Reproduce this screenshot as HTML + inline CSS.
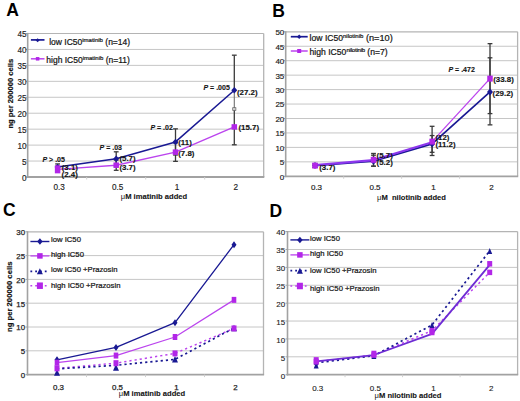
<!DOCTYPE html>
<html><head><meta charset="utf-8"><style>
html,body{margin:0;padding:0;background:#fff;}
svg{display:block;font-family:"Liberation Sans", sans-serif;}
</style></head><body>
<svg width="520" height="401" viewBox="0 0 520 401">
<rect width="520" height="401" fill="#fff"/>
<line x1="27.7" y1="161.06" x2="263.7" y2="161.06" stroke="#c6c6c6" stroke-width="1"/>
<line x1="27.7" y1="145.11" x2="263.7" y2="145.11" stroke="#c6c6c6" stroke-width="1"/>
<line x1="27.7" y1="129.17" x2="263.7" y2="129.17" stroke="#c6c6c6" stroke-width="1"/>
<line x1="27.7" y1="113.22" x2="263.7" y2="113.22" stroke="#c6c6c6" stroke-width="1"/>
<line x1="27.7" y1="97.28" x2="263.7" y2="97.28" stroke="#c6c6c6" stroke-width="1"/>
<line x1="27.7" y1="81.33" x2="263.7" y2="81.33" stroke="#c6c6c6" stroke-width="1"/>
<line x1="27.7" y1="65.39" x2="263.7" y2="65.39" stroke="#c6c6c6" stroke-width="1"/>
<line x1="27.7" y1="49.44" x2="263.7" y2="49.44" stroke="#c6c6c6" stroke-width="1"/>
<line x1="27.7" y1="33.5" x2="263.7" y2="33.5" stroke="#b4b4b4" stroke-width="1.2"/>
<line x1="263.7" y1="33.5" x2="263.7" y2="177" stroke="#b4b4b4" stroke-width="1.3"/>
<line x1="27.7" y1="32.9" x2="27.7" y2="177.8" stroke="#a2a2a2" stroke-width="1.6"/>
<line x1="26.9" y1="177" x2="264.3" y2="177" stroke="#a2a2a2" stroke-width="1.8"/>
<line x1="25.7" y1="177" x2="27.7" y2="177" stroke="#a2a2a2" stroke-width="1"/>
<text x="26.5" y="180.8" font-size="8.2" text-anchor="end" font-weight="normal" fill="#222" stroke="#222" stroke-width="0.15" >0</text>
<line x1="25.7" y1="161.06" x2="27.7" y2="161.06" stroke="#a2a2a2" stroke-width="1"/>
<text x="26.5" y="164.86" font-size="8.2" text-anchor="end" font-weight="normal" fill="#222" stroke="#222" stroke-width="0.15" >5</text>
<line x1="25.7" y1="145.11" x2="27.7" y2="145.11" stroke="#a2a2a2" stroke-width="1"/>
<text x="26.5" y="148.91" font-size="8.2" text-anchor="end" font-weight="normal" fill="#222" stroke="#222" stroke-width="0.15" >10</text>
<line x1="25.7" y1="129.17" x2="27.7" y2="129.17" stroke="#a2a2a2" stroke-width="1"/>
<text x="26.5" y="132.97" font-size="8.2" text-anchor="end" font-weight="normal" fill="#222" stroke="#222" stroke-width="0.15" >15</text>
<line x1="25.7" y1="113.22" x2="27.7" y2="113.22" stroke="#a2a2a2" stroke-width="1"/>
<text x="26.5" y="117.02" font-size="8.2" text-anchor="end" font-weight="normal" fill="#222" stroke="#222" stroke-width="0.15" >20</text>
<line x1="25.7" y1="97.28" x2="27.7" y2="97.28" stroke="#a2a2a2" stroke-width="1"/>
<text x="26.5" y="101.08" font-size="8.2" text-anchor="end" font-weight="normal" fill="#222" stroke="#222" stroke-width="0.15" >25</text>
<line x1="25.7" y1="81.33" x2="27.7" y2="81.33" stroke="#a2a2a2" stroke-width="1"/>
<text x="26.5" y="85.13" font-size="8.2" text-anchor="end" font-weight="normal" fill="#222" stroke="#222" stroke-width="0.15" >30</text>
<line x1="25.7" y1="65.39" x2="27.7" y2="65.39" stroke="#a2a2a2" stroke-width="1"/>
<text x="26.5" y="69.19" font-size="8.2" text-anchor="end" font-weight="normal" fill="#222" stroke="#222" stroke-width="0.15" >35</text>
<line x1="25.7" y1="49.44" x2="27.7" y2="49.44" stroke="#a2a2a2" stroke-width="1"/>
<text x="26.5" y="53.24" font-size="8.2" text-anchor="end" font-weight="normal" fill="#222" stroke="#222" stroke-width="0.15" >40</text>
<line x1="25.7" y1="33.5" x2="27.7" y2="33.5" stroke="#a2a2a2" stroke-width="1"/>
<text x="26.5" y="37.3" font-size="8.2" text-anchor="end" font-weight="normal" fill="#222" stroke="#222" stroke-width="0.15" >45</text>
<line x1="86.7" y1="177" x2="86.7" y2="179.5" stroke="#cfcfcf" stroke-width="1"/>
<line x1="145.7" y1="177" x2="145.7" y2="179.5" stroke="#cfcfcf" stroke-width="1"/>
<line x1="204.7" y1="177" x2="204.7" y2="179.5" stroke="#cfcfcf" stroke-width="1"/>
<text x="59.1" y="190" font-size="8.2" text-anchor="middle" font-weight="normal" fill="#222" stroke="#222" stroke-width="0.15" >0.3</text>
<text x="117.7" y="190" font-size="8.2" text-anchor="middle" font-weight="normal" fill="#222" stroke="#222" stroke-width="0.15" >0.5</text>
<text x="177" y="190" font-size="8.2" text-anchor="middle" font-weight="normal" fill="#222" stroke="#222" stroke-width="0.15" >1</text>
<text x="235.8" y="190" font-size="8.2" text-anchor="middle" font-weight="normal" fill="#222" stroke="#222" stroke-width="0.15" >2</text>
<line x1="57.6" y1="163.93" x2="57.6" y2="170.3" stroke="#3a3a3a" stroke-width="1.3"/>
<line x1="55.2" y1="163.93" x2="60" y2="163.93" stroke="#3a3a3a" stroke-width="1.3"/>
<line x1="55.2" y1="170.3" x2="60" y2="170.3" stroke="#3a3a3a" stroke-width="1.3"/>
<line x1="57.6" y1="166.48" x2="57.6" y2="172.22" stroke="#3a3a3a" stroke-width="1.3"/>
<line x1="55.2" y1="166.48" x2="60" y2="166.48" stroke="#3a3a3a" stroke-width="1.3"/>
<line x1="55.2" y1="172.22" x2="60" y2="172.22" stroke="#3a3a3a" stroke-width="1.3"/>
<line x1="116.2" y1="151.81" x2="116.2" y2="165.84" stroke="#3a3a3a" stroke-width="1.3"/>
<line x1="113.8" y1="151.81" x2="118.6" y2="151.81" stroke="#3a3a3a" stroke-width="1.3"/>
<line x1="113.8" y1="165.84" x2="118.6" y2="165.84" stroke="#3a3a3a" stroke-width="1.3"/>
<line x1="116.2" y1="160.1" x2="116.2" y2="170.3" stroke="#3a3a3a" stroke-width="1.3"/>
<line x1="113.8" y1="160.1" x2="118.6" y2="160.1" stroke="#3a3a3a" stroke-width="1.3"/>
<line x1="113.8" y1="170.3" x2="118.6" y2="170.3" stroke="#3a3a3a" stroke-width="1.3"/>
<line x1="175.5" y1="128.85" x2="175.5" y2="155" stroke="#3a3a3a" stroke-width="1.3"/>
<line x1="173.1" y1="128.85" x2="177.9" y2="128.85" stroke="#3a3a3a" stroke-width="1.3"/>
<line x1="173.1" y1="155" x2="177.9" y2="155" stroke="#3a3a3a" stroke-width="1.3"/>
<line x1="175.5" y1="142.88" x2="175.5" y2="161.37" stroke="#3a3a3a" stroke-width="1.3"/>
<line x1="173.1" y1="142.88" x2="177.9" y2="142.88" stroke="#3a3a3a" stroke-width="1.3"/>
<line x1="173.1" y1="161.37" x2="177.9" y2="161.37" stroke="#3a3a3a" stroke-width="1.3"/>
<line x1="234.3" y1="55.18" x2="234.3" y2="90.26" stroke="#3a3a3a" stroke-width="1.3"/>
<line x1="231.9" y1="55.18" x2="236.7" y2="55.18" stroke="#3a3a3a" stroke-width="1.3"/>
<line x1="234.3" y1="90.26" x2="234.3" y2="109.08" stroke="#707070" stroke-width="1.1"/>
<line x1="234.3" y1="109.08" x2="234.3" y2="144.79" stroke="#3a3a3a" stroke-width="1.3"/>
<line x1="231.9" y1="144.79" x2="236.7" y2="144.79" stroke="#3a3a3a" stroke-width="1.3"/>
<rect x="232.7" y="107.68" width="3.2" height="2.8" fill="#d0d0d0" stroke="#606060" stroke-width="0.7"/>
<polyline points="57.6,167.11 116.2,158.82 175.5,141.92 234.3,90.26" fill="none" stroke="#191993" stroke-width="1.5" stroke-linejoin="round"/>
<polyline points="57.6,169.35 116.2,165.2 175.5,152.13 234.3,126.93" fill="none" stroke="#bb44ee" stroke-width="1.4" stroke-linejoin="round"/>
<path d="M57.6,163.86 L60.6,167.11 L57.6,170.36 L54.6,167.11 Z" fill="#191993"/>
<path d="M116.2,155.57 L119.2,158.82 L116.2,162.07 L113.2,158.82 Z" fill="#191993"/>
<path d="M175.5,138.67 L178.5,141.92 L175.5,145.17 L172.5,141.92 Z" fill="#191993"/>
<path d="M234.3,87.01 L237.3,90.26 L234.3,93.51 L231.3,90.26 Z" fill="#191993"/>
<rect x="54.85" y="165.35" width="5.5" height="8" fill="#b226e8"/>
<rect x="113.45" y="162.45" width="5.5" height="5.5" fill="#b226e8"/>
<rect x="172.75" y="149.38" width="5.5" height="5.5" fill="#b226e8"/>
<rect x="231.55" y="124.18" width="5.5" height="5.5" fill="#b226e8"/>
<text x="61.7" y="169.7" font-size="7.9" text-anchor="start" font-weight="bold" fill="#141414" stroke="#141414" stroke-width="0.15" >(3.1)</text>
<text x="61.6" y="177.2" font-size="7.9" text-anchor="start" font-weight="bold" fill="#141414" stroke="#141414" stroke-width="0.15" >(2.4)</text>
<text x="119.4" y="161.1" font-size="7.9" text-anchor="start" font-weight="bold" fill="#141414" stroke="#141414" stroke-width="0.15" >(5.7)</text>
<text x="119.4" y="169.7" font-size="7.9" text-anchor="start" font-weight="bold" fill="#141414" stroke="#141414" stroke-width="0.15" >(3.7)</text>
<text x="178.2" y="145.3" font-size="7.9" text-anchor="start" font-weight="bold" fill="#141414" stroke="#141414" stroke-width="0.15" >(11)</text>
<text x="178.2" y="155.6" font-size="7.9" text-anchor="start" font-weight="bold" fill="#141414" stroke="#141414" stroke-width="0.15" >(7.8)</text>
<text x="236.9" y="94.6" font-size="7.9" text-anchor="start" font-weight="bold" fill="#141414" stroke="#141414" stroke-width="0.15" >(27.2)</text>
<text x="238.4" y="129.9" font-size="7.9" text-anchor="start" font-weight="bold" fill="#141414" stroke="#141414" stroke-width="0.15" >(15.7)</text>
<text x="42.5" y="161.6" font-size="7.0" font-weight="bold" fill="#141414" stroke="#141414" stroke-width="0.12"><tspan font-style="italic">P</tspan> &gt; .05</text>
<text x="99.6" y="149.7" font-size="7.0" font-weight="bold" fill="#141414" stroke="#141414" stroke-width="0.12"><tspan font-style="italic">P</tspan> = .03</text>
<text x="150.4" y="129.7" font-size="7.0" font-weight="bold" fill="#141414" stroke="#141414" stroke-width="0.12"><tspan font-style="italic">P</tspan> = .02</text>
<text x="203.5" y="89.5" font-size="7.0" font-weight="bold" fill="#141414" stroke="#141414" stroke-width="0.12"><tspan font-style="italic">P</tspan> = .005</text>
<polyline points="30.9,39.9 44.5,39.9" fill="none" stroke="#191993" stroke-width="1.7" stroke-linejoin="round"/>
<path d="M37.6,38.3 L39.6,40.3 L37.6,42.3 L35.6,40.3 Z" fill="#191993"/>
<text x="49.2" y="44.6" font-size="8.5" fill="#141414" stroke="#141414" stroke-width="0.22">low IC50<tspan font-size="6" dy="-3">imatinib</tspan><tspan dy="3"> (n=14)</tspan></text>
<polyline points="30.9,58.8 44.5,58.8" fill="none" stroke="#bb44ee" stroke-width="1.5" stroke-linejoin="round"/>
<rect x="35.85" y="57.05" width="3.5" height="3.5" fill="#b226e8"/>
<text x="46.3" y="62.8" font-size="8.5" fill="#141414" stroke="#141414" stroke-width="0.22">high IC50<tspan font-size="6" dy="-3">imatinib</tspan><tspan dy="3"> (n=11)</tspan></text>
<text x="0" y="0" font-size="7.6" font-weight="bold" text-anchor="middle" fill="#141414" stroke="#141414" stroke-width="0.18" transform="translate(12.6,93.7) rotate(-90)">ng per 200000 cells</text>
<text x="154" y="199.3" font-size="7.6" text-anchor="middle" fill="#141414"><tspan>μ</tspan><tspan font-weight="bold" stroke="#141414" stroke-width="0.1">M imatinib added</tspan></text>
<text x="6.2" y="16.2" font-size="17.5" text-anchor="start" font-weight="bold" fill="#000" >A</text>
<line x1="285.7" y1="161.85" x2="517.6" y2="161.85" stroke="#c6c6c6" stroke-width="1"/>
<line x1="285.7" y1="147.4" x2="517.6" y2="147.4" stroke="#c6c6c6" stroke-width="1"/>
<line x1="285.7" y1="132.95" x2="517.6" y2="132.95" stroke="#c6c6c6" stroke-width="1"/>
<line x1="285.7" y1="118.5" x2="517.6" y2="118.5" stroke="#c6c6c6" stroke-width="1"/>
<line x1="285.7" y1="104.05" x2="517.6" y2="104.05" stroke="#c6c6c6" stroke-width="1"/>
<line x1="285.7" y1="89.6" x2="517.6" y2="89.6" stroke="#c6c6c6" stroke-width="1"/>
<line x1="285.7" y1="75.15" x2="517.6" y2="75.15" stroke="#c6c6c6" stroke-width="1"/>
<line x1="285.7" y1="60.7" x2="517.6" y2="60.7" stroke="#c6c6c6" stroke-width="1"/>
<line x1="285.7" y1="46.25" x2="517.6" y2="46.25" stroke="#c6c6c6" stroke-width="1"/>
<line x1="285.7" y1="31.8" x2="517.6" y2="31.8" stroke="#b4b4b4" stroke-width="1.2"/>
<line x1="517.6" y1="31.8" x2="517.6" y2="176.3" stroke="#b4b4b4" stroke-width="1.3"/>
<line x1="285.7" y1="31.2" x2="285.7" y2="177.1" stroke="#a2a2a2" stroke-width="1.6"/>
<line x1="284.9" y1="176.3" x2="518.2" y2="176.3" stroke="#a2a2a2" stroke-width="1.8"/>
<line x1="283.7" y1="176.3" x2="285.7" y2="176.3" stroke="#a2a2a2" stroke-width="1"/>
<text x="284.3" y="179.7" font-size="8.0" text-anchor="end" font-weight="normal" fill="#222" stroke="#222" stroke-width="0.18" >0</text>
<line x1="283.7" y1="161.85" x2="285.7" y2="161.85" stroke="#a2a2a2" stroke-width="1"/>
<text x="284.3" y="165.25" font-size="8.0" text-anchor="end" font-weight="normal" fill="#222" stroke="#222" stroke-width="0.18" >5</text>
<line x1="283.7" y1="147.4" x2="285.7" y2="147.4" stroke="#a2a2a2" stroke-width="1"/>
<text x="284.3" y="150.8" font-size="8.0" text-anchor="end" font-weight="normal" fill="#222" stroke="#222" stroke-width="0.18" >10</text>
<line x1="283.7" y1="132.95" x2="285.7" y2="132.95" stroke="#a2a2a2" stroke-width="1"/>
<text x="284.3" y="136.35" font-size="8.0" text-anchor="end" font-weight="normal" fill="#222" stroke="#222" stroke-width="0.18" >15</text>
<line x1="283.7" y1="118.5" x2="285.7" y2="118.5" stroke="#a2a2a2" stroke-width="1"/>
<text x="284.3" y="121.9" font-size="8.0" text-anchor="end" font-weight="normal" fill="#222" stroke="#222" stroke-width="0.18" >20</text>
<line x1="283.7" y1="104.05" x2="285.7" y2="104.05" stroke="#a2a2a2" stroke-width="1"/>
<text x="284.3" y="107.45" font-size="8.0" text-anchor="end" font-weight="normal" fill="#222" stroke="#222" stroke-width="0.18" >25</text>
<line x1="283.7" y1="89.6" x2="285.7" y2="89.6" stroke="#a2a2a2" stroke-width="1"/>
<text x="284.3" y="93" font-size="8.0" text-anchor="end" font-weight="normal" fill="#222" stroke="#222" stroke-width="0.18" >30</text>
<line x1="283.7" y1="75.15" x2="285.7" y2="75.15" stroke="#a2a2a2" stroke-width="1"/>
<text x="284.3" y="78.55" font-size="8.0" text-anchor="end" font-weight="normal" fill="#222" stroke="#222" stroke-width="0.18" >35</text>
<line x1="283.7" y1="60.7" x2="285.7" y2="60.7" stroke="#a2a2a2" stroke-width="1"/>
<text x="284.3" y="64.1" font-size="8.0" text-anchor="end" font-weight="normal" fill="#222" stroke="#222" stroke-width="0.18" >40</text>
<line x1="283.7" y1="46.25" x2="285.7" y2="46.25" stroke="#a2a2a2" stroke-width="1"/>
<text x="284.3" y="49.65" font-size="8.0" text-anchor="end" font-weight="normal" fill="#222" stroke="#222" stroke-width="0.18" >45</text>
<line x1="283.7" y1="31.8" x2="285.7" y2="31.8" stroke="#a2a2a2" stroke-width="1"/>
<text x="284.3" y="35.2" font-size="8.0" text-anchor="end" font-weight="normal" fill="#222" stroke="#222" stroke-width="0.18" >50</text>
<line x1="343.68" y1="176.3" x2="343.68" y2="178.8" stroke="#cfcfcf" stroke-width="1"/>
<line x1="401.65" y1="176.3" x2="401.65" y2="178.8" stroke="#cfcfcf" stroke-width="1"/>
<line x1="459.62" y1="176.3" x2="459.62" y2="178.8" stroke="#cfcfcf" stroke-width="1"/>
<text x="316.5" y="190.4" font-size="8.0" text-anchor="middle" font-weight="normal" fill="#222" stroke="#222" stroke-width="0.18" >0.3</text>
<text x="375" y="190.4" font-size="8.0" text-anchor="middle" font-weight="normal" fill="#222" stroke="#222" stroke-width="0.18" >0.5</text>
<text x="433.6" y="190.4" font-size="8.0" text-anchor="middle" font-weight="normal" fill="#222" stroke="#222" stroke-width="0.18" >1</text>
<text x="491.5" y="190.4" font-size="8.0" text-anchor="middle" font-weight="normal" fill="#222" stroke="#222" stroke-width="0.18" >2</text>
<line x1="315" y1="163.87" x2="315" y2="167.34" stroke="#3a3a3a" stroke-width="1.3"/>
<line x1="312.6" y1="163.87" x2="317.4" y2="163.87" stroke="#3a3a3a" stroke-width="1.3"/>
<line x1="312.6" y1="167.34" x2="317.4" y2="167.34" stroke="#3a3a3a" stroke-width="1.3"/>
<line x1="315" y1="163.87" x2="315" y2="167.34" stroke="#3a3a3a" stroke-width="1.3"/>
<line x1="312.6" y1="163.87" x2="317.4" y2="163.87" stroke="#3a3a3a" stroke-width="1.3"/>
<line x1="312.6" y1="167.34" x2="317.4" y2="167.34" stroke="#3a3a3a" stroke-width="1.3"/>
<line x1="373.5" y1="155.2" x2="373.5" y2="166.19" stroke="#3a3a3a" stroke-width="1.3"/>
<line x1="371.1" y1="155.2" x2="375.9" y2="155.2" stroke="#3a3a3a" stroke-width="1.3"/>
<line x1="371.1" y1="166.19" x2="375.9" y2="166.19" stroke="#3a3a3a" stroke-width="1.3"/>
<line x1="373.5" y1="153.47" x2="373.5" y2="166.19" stroke="#3a3a3a" stroke-width="1.3"/>
<line x1="371.1" y1="153.47" x2="375.9" y2="153.47" stroke="#3a3a3a" stroke-width="1.3"/>
<line x1="371.1" y1="166.19" x2="375.9" y2="166.19" stroke="#3a3a3a" stroke-width="1.3"/>
<line x1="432.1" y1="135.55" x2="432.1" y2="152.31" stroke="#3a3a3a" stroke-width="1.3"/>
<line x1="429.7" y1="135.55" x2="434.5" y2="135.55" stroke="#3a3a3a" stroke-width="1.3"/>
<line x1="429.7" y1="152.31" x2="434.5" y2="152.31" stroke="#3a3a3a" stroke-width="1.3"/>
<line x1="432.1" y1="126.3" x2="432.1" y2="155.49" stroke="#3a3a3a" stroke-width="1.3"/>
<line x1="429.7" y1="126.3" x2="434.5" y2="126.3" stroke="#3a3a3a" stroke-width="1.3"/>
<line x1="429.7" y1="155.49" x2="434.5" y2="155.49" stroke="#3a3a3a" stroke-width="1.3"/>
<line x1="490" y1="57.81" x2="490" y2="124.86" stroke="#3a3a3a" stroke-width="1.3"/>
<line x1="487.6" y1="57.81" x2="492.4" y2="57.81" stroke="#3a3a3a" stroke-width="1.3"/>
<line x1="487.6" y1="124.86" x2="492.4" y2="124.86" stroke="#3a3a3a" stroke-width="1.3"/>
<line x1="490" y1="43.65" x2="490" y2="113.59" stroke="#3a3a3a" stroke-width="1.3"/>
<line x1="487.6" y1="43.65" x2="492.4" y2="43.65" stroke="#3a3a3a" stroke-width="1.3"/>
<line x1="487.6" y1="113.59" x2="492.4" y2="113.59" stroke="#3a3a3a" stroke-width="1.3"/>
<polyline points="315,165.61 373.5,161.27 432.1,143.93 490,91.91" fill="none" stroke="#191993" stroke-width="1.7" stroke-linejoin="round"/>
<polyline points="432.1,141.62 490,78.62" fill="none" stroke="#bb44ee" stroke-width="1.3" stroke-linejoin="round"/>
<polyline points="315,165.17 373.5,160.12 432.1,142.34" fill="none" stroke="#8c36ee" stroke-width="2.1" stroke-linejoin="round"/>
<path d="M315,162.11 L318,165.61 L315,169.11 L312,165.61 Z" fill="#191993"/>
<path d="M373.5,157.77 L376.5,161.27 L373.5,164.77 L370.5,161.27 Z" fill="#191993"/>
<path d="M432.1,140.43 L435.1,143.93 L432.1,147.43 L429.1,143.93 Z" fill="#191993"/>
<path d="M490,88.41 L493,91.91 L490,95.41 L487,91.91 Z" fill="#191993"/>
<rect x="312.25" y="162.61" width="5.5" height="6" fill="#b226e8"/>
<rect x="370.75" y="156.83" width="5.5" height="6" fill="#b226e8"/>
<rect x="429.35" y="138.62" width="5.5" height="6" fill="#b226e8"/>
<rect x="487.25" y="75.62" width="5.5" height="6" fill="#b226e8"/>
<text x="319.2" y="169.6" font-size="7.9" text-anchor="start" font-weight="bold" fill="#141414" stroke="#141414" stroke-width="0.15" >(3.7)</text>
<text x="376.6" y="157.9" font-size="7.9" text-anchor="start" font-weight="bold" fill="#141414" stroke="#141414" stroke-width="0.15" >(5.7)</text>
<text x="376.6" y="165.3" font-size="7.9" text-anchor="start" font-weight="bold" fill="#141414" stroke="#141414" stroke-width="0.15" >(5.2)</text>
<text x="435.4" y="139.5" font-size="7.9" text-anchor="start" font-weight="bold" fill="#141414" stroke="#141414" stroke-width="0.15" >(12)</text>
<text x="435.4" y="147.3" font-size="7.9" text-anchor="start" font-weight="bold" fill="#141414" stroke="#141414" stroke-width="0.15" >(11.2)</text>
<text x="493.2" y="81.9" font-size="7.9" text-anchor="start" font-weight="bold" fill="#141414" stroke="#141414" stroke-width="0.15" >(33.8)</text>
<text x="492.6" y="96.4" font-size="7.9" text-anchor="start" font-weight="bold" fill="#141414" stroke="#141414" stroke-width="0.15" >(29.2)</text>
<text x="448.5" y="72.3" font-size="7.0" font-weight="bold" fill="#141414" stroke="#141414" stroke-width="0.12"><tspan font-style="italic">P</tspan> = .472</text>
<polyline points="290.8,36.7 307.7,36.7" fill="none" stroke="#191993" stroke-width="1.7" stroke-linejoin="round"/>
<path d="M299.2,34.45 L301.45,36.7 L299.2,38.95 L296.95,36.7 Z" fill="#191993"/>
<text x="309.6" y="41.0" font-size="8.6" fill="#141414" stroke="#141414" stroke-width="0.22">low IC50<tspan font-size="6" dy="-3">nilotinib</tspan><tspan dy="3" font-size="9.2"> (n=10)</tspan></text>
<polyline points="290.8,51 307.7,51" fill="none" stroke="#bb44ee" stroke-width="1.5" stroke-linejoin="round"/>
<rect x="297.2" y="49" width="4" height="4" fill="#b226e8"/>
<text x="309.6" y="55.2" font-size="8.6" fill="#141414" stroke="#141414" stroke-width="0.22">high IC50<tspan font-size="6" dy="-3" letter-spacing="-0.2">nilotinib</tspan><tspan dy="3"> (n=7)</tspan></text>
<text x="411.5" y="200.2" font-size="7.6" text-anchor="middle" fill="#141414"><tspan>μ</tspan><tspan font-weight="bold" stroke="#141414" stroke-width="0.1">M &#160;nilotinib added</tspan></text>
<text x="272.3" y="16.8" font-size="17.5" text-anchor="start" font-weight="bold" fill="#000" >B</text>
<line x1="27.5" y1="350.8" x2="263.5" y2="350.8" stroke="#c6c6c6" stroke-width="1"/>
<line x1="27.5" y1="327" x2="263.5" y2="327" stroke="#c6c6c6" stroke-width="1"/>
<line x1="27.5" y1="303.2" x2="263.5" y2="303.2" stroke="#c6c6c6" stroke-width="1"/>
<line x1="27.5" y1="279.4" x2="263.5" y2="279.4" stroke="#c6c6c6" stroke-width="1"/>
<line x1="27.5" y1="255.6" x2="263.5" y2="255.6" stroke="#c6c6c6" stroke-width="1"/>
<line x1="27.5" y1="231.8" x2="263.5" y2="231.8" stroke="#b4b4b4" stroke-width="1.2"/>
<line x1="263.5" y1="231.8" x2="263.5" y2="374.6" stroke="#b4b4b4" stroke-width="1.3"/>
<line x1="27.5" y1="231.2" x2="27.5" y2="375.4" stroke="#a2a2a2" stroke-width="1.6"/>
<line x1="26.7" y1="374.6" x2="264.1" y2="374.6" stroke="#a2a2a2" stroke-width="1.8"/>
<line x1="25.5" y1="374.6" x2="27.5" y2="374.6" stroke="#a2a2a2" stroke-width="1"/>
<text x="25.1" y="378" font-size="7.9" text-anchor="end" font-weight="normal" fill="#222" stroke="#222" stroke-width="0.25" >0</text>
<line x1="25.5" y1="350.8" x2="27.5" y2="350.8" stroke="#a2a2a2" stroke-width="1"/>
<text x="25.1" y="354.2" font-size="7.9" text-anchor="end" font-weight="normal" fill="#222" stroke="#222" stroke-width="0.25" >5</text>
<line x1="25.5" y1="327" x2="27.5" y2="327" stroke="#a2a2a2" stroke-width="1"/>
<text x="25.1" y="330.4" font-size="7.9" text-anchor="end" font-weight="normal" fill="#222" stroke="#222" stroke-width="0.25" >10</text>
<line x1="25.5" y1="303.2" x2="27.5" y2="303.2" stroke="#a2a2a2" stroke-width="1"/>
<text x="25.1" y="306.6" font-size="7.9" text-anchor="end" font-weight="normal" fill="#222" stroke="#222" stroke-width="0.25" >15</text>
<line x1="25.5" y1="279.4" x2="27.5" y2="279.4" stroke="#a2a2a2" stroke-width="1"/>
<text x="25.1" y="282.8" font-size="7.9" text-anchor="end" font-weight="normal" fill="#222" stroke="#222" stroke-width="0.25" >20</text>
<line x1="25.5" y1="255.6" x2="27.5" y2="255.6" stroke="#a2a2a2" stroke-width="1"/>
<text x="25.1" y="259" font-size="7.9" text-anchor="end" font-weight="normal" fill="#222" stroke="#222" stroke-width="0.25" >25</text>
<line x1="25.5" y1="231.8" x2="27.5" y2="231.8" stroke="#a2a2a2" stroke-width="1"/>
<text x="25.1" y="235.2" font-size="7.9" text-anchor="end" font-weight="normal" fill="#222" stroke="#222" stroke-width="0.25" >30</text>
<line x1="86.5" y1="374.6" x2="86.5" y2="377.1" stroke="#cfcfcf" stroke-width="1"/>
<line x1="145.5" y1="374.6" x2="145.5" y2="377.1" stroke="#cfcfcf" stroke-width="1"/>
<line x1="204.5" y1="374.6" x2="204.5" y2="377.1" stroke="#cfcfcf" stroke-width="1"/>
<text x="58.5" y="390.2" font-size="7.9" text-anchor="middle" font-weight="normal" fill="#222" stroke="#222" stroke-width="0.25" >0.3</text>
<text x="117.5" y="390.2" font-size="7.9" text-anchor="middle" font-weight="normal" fill="#222" stroke="#222" stroke-width="0.25" >0.5</text>
<text x="176.5" y="390.2" font-size="7.9" text-anchor="middle" font-weight="normal" fill="#222" stroke="#222" stroke-width="0.25" >1</text>
<text x="235.5" y="390.2" font-size="7.9" text-anchor="middle" font-weight="normal" fill="#222" stroke="#222" stroke-width="0.25" >2</text>
<polyline points="57,368.41 116,363.18 175,353.42 234,328.43" fill="none" stroke="#bb44ee" stroke-width="1.5" stroke-linejoin="round" stroke-dasharray="2.2 3"/>
<polyline points="57,368.89 116,365.32 175,359.37 234,327.95" fill="none" stroke="#191993" stroke-width="1.7" stroke-linejoin="round" stroke-dasharray="2.2 3"/>
<polyline points="57,359.84 116,347.47 175,322.72 234,244.65" fill="none" stroke="#191993" stroke-width="1.3" stroke-linejoin="round"/>
<polyline points="57,362.7 116,355.56 175,337 234,299.87" fill="none" stroke="#bb44ee" stroke-width="1.2" stroke-linejoin="round"/>
<path d="M57,369.21 L60,375.71 L54,375.71 Z" fill="#191993"/>
<path d="M116,364.21 L119,370.71 L113,370.71 Z" fill="#191993"/>
<path d="M175,356.12 L178,362.62 L172,362.62 Z" fill="#191993"/>
<path d="M234,324.7 L237,331.2 L231,331.2 Z" fill="#191993"/>
<rect x="54.5" y="365.41" width="5" height="6" fill="#b226e8"/>
<rect x="113.5" y="360.18" width="5" height="6" fill="#b226e8"/>
<rect x="172.5" y="350.42" width="5" height="6" fill="#b226e8"/>
<rect x="231.5" y="325.43" width="5" height="6" fill="#b226e8"/>
<path d="M57,356.34 L59.5,359.84 L57,363.34 L54.5,359.84 Z" fill="#191993"/>
<path d="M116,343.97 L118.5,347.47 L116,350.97 L113.5,347.47 Z" fill="#191993"/>
<path d="M175,319.22 L177.5,322.72 L175,326.22 L172.5,322.72 Z" fill="#191993"/>
<path d="M234,241.15 L236.5,244.65 L234,248.15 L231.5,244.65 Z" fill="#191993"/>
<rect x="54.7" y="359.7" width="4.6" height="6" fill="#b226e8"/>
<rect x="113.7" y="352.56" width="4.6" height="6" fill="#b226e8"/>
<rect x="172.7" y="334" width="4.6" height="6" fill="#b226e8"/>
<rect x="231.7" y="296.87" width="4.6" height="6" fill="#b226e8"/>
<polyline points="30.4,241.5 49.4,241.5" fill="none" stroke="#191993" stroke-width="1.4" stroke-linejoin="round"/>
<path d="M39.9,238.25 L42.65,241.5 L39.9,244.75 L37.15,241.5 Z" fill="#191993"/>
<polyline points="30.4,255.9 49.4,255.9" fill="none" stroke="#bb44ee" stroke-width="1.3" stroke-linejoin="round"/>
<rect x="37.15" y="253.15" width="5.5" height="5.5" fill="#b226e8"/>
<polyline points="30.4,271.3 49.4,271.3" fill="none" stroke="#191993" stroke-width="1.7" stroke-linejoin="round" stroke-dasharray="1.8 3"/>
<path d="M39.9,268.3 L42.9,274.3 L36.9,274.3 Z" fill="#191993"/>
<polyline points="30.4,285.7 49.4,285.7" fill="none" stroke="#bb44ee" stroke-width="1.5" stroke-linejoin="round" stroke-dasharray="1.8 3"/>
<rect x="36.9" y="282.45" width="6" height="6.5" fill="#b226e8"/>
<text x="51" y="242.4" font-size="7.7" text-anchor="start" font-weight="normal" fill="#141414" stroke="#141414" stroke-width="0.22" >low IC50</text>
<text x="51" y="257.2" font-size="7.7" text-anchor="start" font-weight="normal" fill="#141414" stroke="#141414" stroke-width="0.22" >high IC50</text>
<text x="51" y="272.4" font-size="7.7" text-anchor="start" font-weight="normal" fill="#141414" stroke="#141414" stroke-width="0.22" >low IC50 +Prazosin</text>
<text x="51" y="288.4" font-size="7.7" text-anchor="start" font-weight="normal" fill="#141414" stroke="#141414" stroke-width="0.22" >high IC50 +Prazosin</text>
<text x="0" y="0" font-size="7.7" font-weight="bold" text-anchor="middle" fill="#141414" stroke="#141414" stroke-width="0.18" transform="translate(12.3,296.8) rotate(-90)">ng per 200000 cells</text>
<text x="152" y="396.4" font-size="7.6" text-anchor="middle" fill="#141414"><tspan>μ</tspan><tspan font-weight="bold" stroke="#141414" stroke-width="0.1">M imatinib added</tspan></text>
<text x="3" y="216.4" font-size="17.5" text-anchor="start" font-weight="bold" fill="#000" >C</text>
<line x1="287.5" y1="356.81" x2="517.6" y2="356.81" stroke="#c6c6c6" stroke-width="1"/>
<line x1="287.5" y1="338.93" x2="517.6" y2="338.93" stroke="#c6c6c6" stroke-width="1"/>
<line x1="287.5" y1="321.04" x2="517.6" y2="321.04" stroke="#c6c6c6" stroke-width="1"/>
<line x1="287.5" y1="303.15" x2="517.6" y2="303.15" stroke="#c6c6c6" stroke-width="1"/>
<line x1="287.5" y1="285.26" x2="517.6" y2="285.26" stroke="#c6c6c6" stroke-width="1"/>
<line x1="287.5" y1="267.38" x2="517.6" y2="267.38" stroke="#c6c6c6" stroke-width="1"/>
<line x1="287.5" y1="249.49" x2="517.6" y2="249.49" stroke="#c6c6c6" stroke-width="1"/>
<line x1="287.5" y1="231.6" x2="517.6" y2="231.6" stroke="#b4b4b4" stroke-width="1.2"/>
<line x1="517.6" y1="231.6" x2="517.6" y2="374.7" stroke="#b4b4b4" stroke-width="1.3"/>
<line x1="287.5" y1="231" x2="287.5" y2="375.5" stroke="#a2a2a2" stroke-width="1.6"/>
<line x1="286.7" y1="374.7" x2="518.2" y2="374.7" stroke="#a2a2a2" stroke-width="1.8"/>
<line x1="285.5" y1="374.7" x2="287.5" y2="374.7" stroke="#a2a2a2" stroke-width="1"/>
<text x="285.1" y="378.5" font-size="8.0" text-anchor="end" font-weight="normal" fill="#222" stroke="#222" stroke-width="0.12" >0</text>
<line x1="285.5" y1="356.81" x2="287.5" y2="356.81" stroke="#a2a2a2" stroke-width="1"/>
<text x="285.1" y="360.61" font-size="8.0" text-anchor="end" font-weight="normal" fill="#222" stroke="#222" stroke-width="0.12" >5</text>
<line x1="285.5" y1="338.93" x2="287.5" y2="338.93" stroke="#a2a2a2" stroke-width="1"/>
<text x="285.1" y="342.73" font-size="8.0" text-anchor="end" font-weight="normal" fill="#222" stroke="#222" stroke-width="0.12" >10</text>
<line x1="285.5" y1="321.04" x2="287.5" y2="321.04" stroke="#a2a2a2" stroke-width="1"/>
<text x="285.1" y="324.84" font-size="8.0" text-anchor="end" font-weight="normal" fill="#222" stroke="#222" stroke-width="0.12" >15</text>
<line x1="285.5" y1="303.15" x2="287.5" y2="303.15" stroke="#a2a2a2" stroke-width="1"/>
<text x="285.1" y="306.95" font-size="8.0" text-anchor="end" font-weight="normal" fill="#222" stroke="#222" stroke-width="0.12" >20</text>
<line x1="285.5" y1="285.26" x2="287.5" y2="285.26" stroke="#a2a2a2" stroke-width="1"/>
<text x="285.1" y="289.06" font-size="8.0" text-anchor="end" font-weight="normal" fill="#222" stroke="#222" stroke-width="0.12" >25</text>
<line x1="285.5" y1="267.38" x2="287.5" y2="267.38" stroke="#a2a2a2" stroke-width="1"/>
<text x="285.1" y="271.18" font-size="8.0" text-anchor="end" font-weight="normal" fill="#222" stroke="#222" stroke-width="0.12" >30</text>
<line x1="285.5" y1="249.49" x2="287.5" y2="249.49" stroke="#a2a2a2" stroke-width="1"/>
<text x="285.1" y="253.29" font-size="8.0" text-anchor="end" font-weight="normal" fill="#222" stroke="#222" stroke-width="0.12" >35</text>
<line x1="285.5" y1="231.6" x2="287.5" y2="231.6" stroke="#a2a2a2" stroke-width="1"/>
<text x="285.1" y="235.4" font-size="8.0" text-anchor="end" font-weight="normal" fill="#222" stroke="#222" stroke-width="0.12" >40</text>
<line x1="345.02" y1="374.7" x2="345.02" y2="377.2" stroke="#cfcfcf" stroke-width="1"/>
<line x1="402.55" y1="374.7" x2="402.55" y2="377.2" stroke="#cfcfcf" stroke-width="1"/>
<line x1="460.08" y1="374.7" x2="460.08" y2="377.2" stroke="#cfcfcf" stroke-width="1"/>
<text x="317.7" y="390.8" font-size="8.0" text-anchor="middle" font-weight="normal" fill="#222" stroke="#222" stroke-width="0.12" >0.3</text>
<text x="375.4" y="390.8" font-size="8.0" text-anchor="middle" font-weight="normal" fill="#222" stroke="#222" stroke-width="0.12" >0.5</text>
<text x="433.5" y="390.8" font-size="8.0" text-anchor="middle" font-weight="normal" fill="#222" stroke="#222" stroke-width="0.12" >1</text>
<text x="491.2" y="390.8" font-size="8.0" text-anchor="middle" font-weight="normal" fill="#222" stroke="#222" stroke-width="0.12" >2</text>
<polyline points="316.2,361.82 373.9,355.02 432,330.7 489.7,272.38" fill="none" stroke="#bb44ee" stroke-width="1.5" stroke-linejoin="round" stroke-dasharray="2.2 3"/>
<polyline points="316.2,362.89 373.9,355.74 432,324.97 489.7,250.92" fill="none" stroke="#191993" stroke-width="1.7" stroke-linejoin="round" stroke-dasharray="2.2 3"/>
<polyline points="316.2,361.46 373.9,355.02 432,333.92 489.7,264.87" fill="none" stroke="#6e2cd4" stroke-width="1.8" stroke-linejoin="round"/>
<path d="M316.2,362.4 L318.7,368.4 L313.7,368.4 Z" fill="#191993"/>
<path d="M373.9,353.1 L376.4,359.1 L371.4,359.1 Z" fill="#191993"/>
<path d="M432,321.97 L434.5,327.97 L429.5,327.97 Z" fill="#191993"/>
<path d="M489.7,247.92 L492.2,253.92 L487.2,253.92 Z" fill="#191993"/>
<path d="M316.2,360.97 L318.7,363.97 L316.2,366.97 L313.7,363.97 Z" fill="#191993"/>
<rect x="313.7" y="359.07" width="5" height="5.5" fill="#b226e8"/>
<rect x="371.4" y="352.27" width="5" height="5.5" fill="#b226e8"/>
<rect x="429.5" y="327.95" width="5" height="5.5" fill="#b226e8"/>
<rect x="487.2" y="269.63" width="5" height="5.5" fill="#b226e8"/>
<rect x="313.7" y="357.14" width="5" height="6.5" fill="#b226e8"/>
<rect x="371.4" y="350.7" width="5" height="6.5" fill="#b226e8"/>
<rect x="429.5" y="329.74" width="5" height="5.5" fill="#b226e8"/>
<rect x="487.2" y="261.05" width="5" height="5.5" fill="#b226e8"/>
<polyline points="290.4,239.9 309.4,239.9" fill="none" stroke="#191993" stroke-width="1.4" stroke-linejoin="round"/>
<path d="M299.9,236.65 L302.65,239.9 L299.9,243.15 L297.15,239.9 Z" fill="#191993"/>
<polyline points="290.4,254.9 309.4,254.9" fill="none" stroke="#bb44ee" stroke-width="1.3" stroke-linejoin="round"/>
<rect x="297.15" y="252.15" width="5.5" height="5.5" fill="#b226e8"/>
<polyline points="290.4,270.7 309.4,270.7" fill="none" stroke="#191993" stroke-width="1.7" stroke-linejoin="round" stroke-dasharray="1.8 3"/>
<path d="M299.9,267.7 L302.9,273.7 L296.9,273.7 Z" fill="#191993"/>
<polyline points="290.4,286 309.4,286" fill="none" stroke="#bb44ee" stroke-width="1.5" stroke-linejoin="round" stroke-dasharray="1.8 3"/>
<rect x="296.9" y="282.75" width="6" height="6.5" fill="#b226e8"/>
<text x="310" y="241" font-size="7.7" text-anchor="start" font-weight="normal" fill="#141414" stroke="#141414" stroke-width="0.22" >low IC50</text>
<text x="310" y="256.2" font-size="7.7" text-anchor="start" font-weight="normal" fill="#141414" stroke="#141414" stroke-width="0.22" >high IC50</text>
<text x="310" y="273.3" font-size="7.7" text-anchor="start" font-weight="normal" fill="#141414" stroke="#141414" stroke-width="0.22" >low IC50 +Prazosin</text>
<text x="310" y="290.7" font-size="7.7" text-anchor="start" font-weight="normal" fill="#141414" stroke="#141414" stroke-width="0.22" >high IC50 +Prazosin</text>
<text x="408" y="398" font-size="7.6" text-anchor="middle" fill="#141414"><tspan>μ</tspan><tspan font-weight="bold" stroke="#141414" stroke-width="0.1">M nilotinib added</tspan></text>
<text x="269.6" y="216.6" font-size="17.5" text-anchor="start" font-weight="bold" fill="#000" >D</text>
</svg>
</body></html>
